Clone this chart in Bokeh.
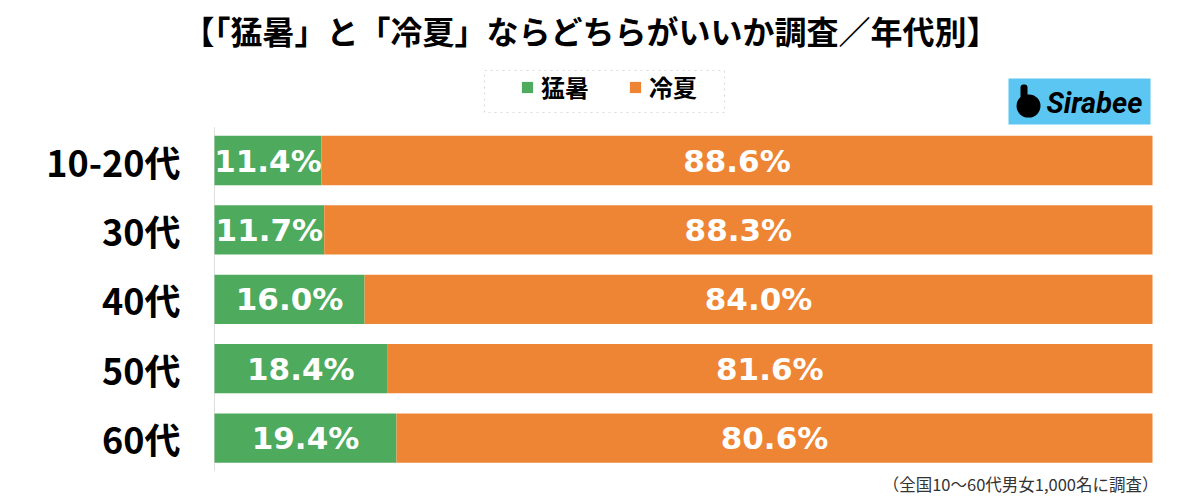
from bokeh.plotting import figure
from bokeh.models import ColumnDataSource, Range1d, Legend, LegendItem, Label, BoxAnnotation
from bokeh.core.properties import value
from bokeh.embed import file_html
from bokeh.resources import INLINE

categories = ["10-20代", "30代", "40代", "50代", "60代"]
hot = [11.4, 11.7, 16.0, 18.4, 19.4]
cool = [88.6, 88.3, 84.0, 81.6, 80.6]
series_names = ["猛暑", "冷夏"]
title_text = "【「猛暑」と「冷夏」ならどちらがいいか調査／年代別】"
note_text = "（全国10〜60代男女1,000名に調査）"
logo_text = "Sirabee"

GREEN = "#4EAA5C"
ORANGE = "#EE8535"
JP = "Noto Sans CJK JP"

# layout (pixels)
W, H = 1200, 499
PLOT_L, PLOT_R = 214, 1152      # x=0 and x=100
ROW0, PITCH = 160, 69.4         # first row centre, row pitch
PX = (PLOT_R - PLOT_L) / 100.0

rows = list(range(len(categories)))
src = ColumnDataSource(dict(
    row=rows,
    cat=categories,
    hot=hot,
    cool=cool,
    hot_mid=[h / 2 for h in hot],
    cool_mid=[h + c / 2 for h, c in zip(hot, cool)],
    hot_lbl=[f"{h:.1f}%" for h in hot],
    cool_lbl=[f"{c:.1f}%" for c in cool],
))

p = figure(width=W, height=H,
           x_range=Range1d(-PLOT_L / PX, 100 + (W - PLOT_R) / PX),
           y_range=Range1d((H - ROW0) / PITCH, -ROW0 / PITCH),
           output_backend="svg", toolbar_location=None,
           min_border=0, min_border_left=0, min_border_right=0,
           min_border_top=0, min_border_bottom=0)
p.xaxis.visible = False
p.yaxis.visible = False
p.xgrid.visible = False
p.ygrid.visible = False
p.outline_line_color = None
p.background_fill_color = "white"
p.border_fill_color = "white"

# axis line
p.segment(x0=0, x1=0, y0=-0.48, y1=len(categories) - 0.53, line_color="#dedede", line_width=1)

rs = p.hbar_stack(["hot", "cool"], y="row", height=0.71, color=[GREEN, ORANGE],
                  line_width=0, source=src)

common = dict(y="row", text_align="center", text_baseline="middle", text_color="white",
              text_font=value("DejaVu Sans"), text_font_style="bold", text_font_size="31px",
              source=src)
p.text(x="hot_mid", text="hot_lbl", **common)
p.text(x="cool_mid", text="cool_lbl", **common)

# category labels
p.text(x=(180 - PLOT_L) / PX, y="row", text="cat", source=src, text_align="right",
       text_baseline="middle", text_font=value(JP), text_font_style="bold",
       text_font_size="36px", text_color="black")

# legend frame
p.add_layout(BoxAnnotation(left=484, right=724, top=70, bottom=112,
                           left_units="canvas", right_units="canvas",
                           top_units="canvas", bottom_units="canvas",
                           fill_alpha=0, line_color="#888888", line_dash="dotted",
                           line_width=1.2))

legend = Legend(items=[LegendItem(label=series_names[0], renderers=[rs[0]]),
                       LegendItem(label=series_names[1], renderers=[rs[1]])],
                orientation="horizontal", location=(520, H - 104), padding=0, margin=0,
                spacing=39, glyph_width=14, glyph_height=14, label_standoff=7,
                label_text_font=JP, label_text_font_style="bold",
                label_text_font_size="24px", label_text_color="black",
                border_line_color=None, background_fill_alpha=0)
p.add_layout(legend)

# title
p.add_layout(Label(x=590, y=29, x_units="canvas", y_units="canvas", text=title_text,
                   text_align="center", text_baseline="middle", text_font=JP,
                   text_font_style="bold", text_font_size="32px", text_color="black"))

# footnote
p.add_layout(Label(x=1158, y=483, x_units="canvas", y_units="canvas", text=note_text,
                   text_align="right", text_baseline="middle", text_font=JP,
                   text_font_size="16.5px", text_color="#333333"))

# logo
def canvas_box(l, r, t, b, **kw):
    return BoxAnnotation(left=l, right=r, top=t, bottom=b,
                         left_units="canvas", right_units="canvas",
                         top_units="canvas", bottom_units="canvas", **kw)

p.add_layout(canvas_box(1008, 1150, 78, 124, fill_color="#5BC6F2", fill_alpha=1, line_color=None))
p.add_layout(canvas_box(1016, 1040, 94, 117, fill_color="black", fill_alpha=1, line_color=None,
                        border_radius=12))
p.add_layout(canvas_box(1020, 1027, 84, 100, fill_color="black", fill_alpha=1, line_color=None,
                        border_radius=3))
p.add_layout(Label(x=1046, y=102, x_units="canvas", y_units="canvas", text=logo_text,
                   text_align="left", text_baseline="middle", text_font="Roboto",
                   text_font_style="bold italic", text_font_size="29px", text_color="black"))

open("out.html", "w").write(file_html(p, INLINE))
